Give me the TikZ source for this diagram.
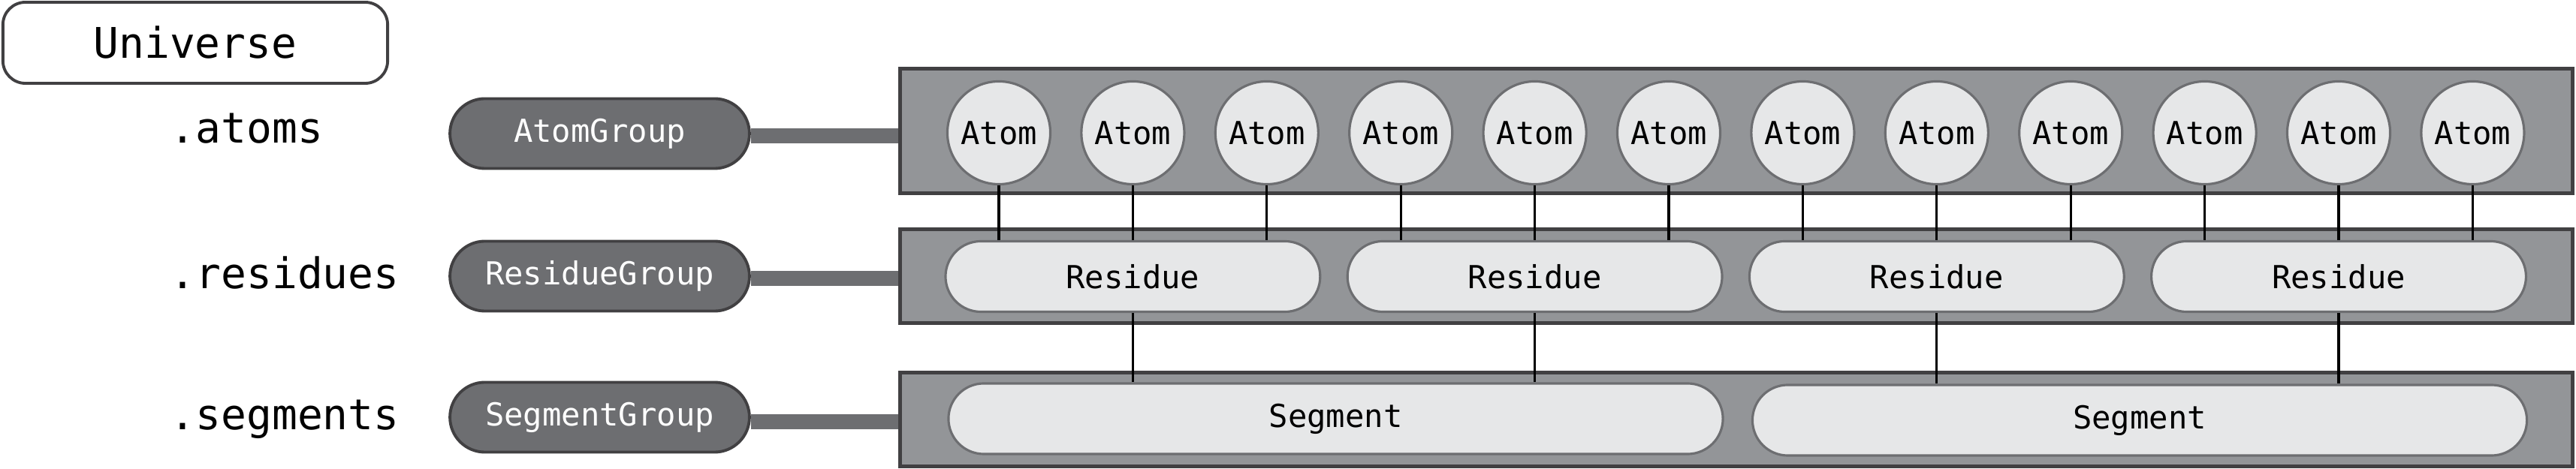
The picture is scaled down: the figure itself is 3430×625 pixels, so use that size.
\documentclass[tikz,border=0pt]{standalone}
\usepackage{fontspec}
\setmonofont{DejaVu Sans Mono}
\usetikzlibrary{shapes.misc}
\definecolor{panelfill}{HTML}{939598}
\definecolor{darkline}{HTML}{414042}
\definecolor{midgray}{HTML}{6D6E71}
\definecolor{lightfill}{HTML}{E6E7E8}
\tikzset{
  ubox/.style={draw=darkline, line width=1.1pt, fill=white, rounded corners=0.3cm, minimum width=5.12cm, minimum height=1.08cm, font=\ttfamily\fontsize{16}{18}\selectfont},
  lbl/.style={anchor=base west, inner sep=0pt, font=\ttfamily\fontsize{16}{18}\selectfont},
  grp/.style={rounded rectangle, draw=darkline, line width=1.1pt, fill=midgray, text=white, minimum width=4.22cm, minimum height=0.93cm, font=\ttfamily\fontsize{12}{14}\selectfont},
  panel/.style={rectangle, draw=darkline, line width=1.4pt, fill=panelfill, minimum width=22.26cm},
  atomnode/.style={circle, draw=midgray, line width=0.9pt, fill=lightfill, minimum size=1.37cm, inner sep=0pt, font=\ttfamily\fontsize{12}{14}\selectfont},
  resnode/.style={rounded rectangle, draw=midgray, line width=0.9pt, fill=lightfill, minimum width=5.22cm, minimum height=0.94cm, font=\ttfamily\fontsize{12}{14}\selectfont},
  segnode/.style={rounded rectangle, draw=midgray, line width=0.9pt, fill=lightfill, minimum width=10.54cm, minimum height=0.94cm, font=\ttfamily\fontsize{12}{14}\selectfont},
  bar/.style={draw=midgray, line width=5.6pt},
  link/.style={draw=black, line width=0.9pt}
}
\begin{document}
\begin{tikzpicture}[x=0.01cm, y=-0.01cm]
\useasboundingbox (0,0) rectangle (3430,625);
% panels
\node[panel, minimum height=1.66cm] (pa) at (2312,174.5) {};
\node[panel, minimum height=1.25cm] (pr) at (2312,368) {};
\node[panel, minimum height=1.25cm] (ps) at (2312,559) {};
% universe and labels
\node[ubox] (uni) at (260,57) {Universe};
\node[lbl] (la) at (226,191) {.atoms};
\node[lbl] (lr) at (226,385) {.residues};
\node[lbl] (ls) at (226,573) {.segments};
% groups
\node[grp] (ga) at (798.5,178) {AtomGroup};
\node[grp] (gr) at (798.5,368) {ResidueGroup};
\node[grp] (gs) at (798.5,556) {SegmentGroup};
\draw[bar] ([yshift=-0.03cm]ga.east) -- ([yshift=-0.03cm]ga.east -| pa.west);
\draw[bar] ([yshift=-0.03cm]gr.east) -- ([yshift=-0.03cm]gr.east -| pr.west);
\draw[bar] ([yshift=-0.06cm]gs.east) -- ([yshift=-0.06cm]gs.east -| ps.west);
% atoms
\foreach \i in {0,...,11} {
  \node[atomnode] (a\i) at ({1330+178.4*\i},177) {Atom};
}
% residues
\foreach \j/\m in {0/1,1/4,2/7,3/10} {
  \node[resnode] (r\j) at ({1330+178.4*\m},368.5) {Residue};
}
% segments
\node[segnode] (s0) at (1778.5,558) {Segment};
\node[segnode] (s1) at (2849,560) {Segment};
% atom-residue links
\foreach \i/\j in {0/0,1/0,2/0,3/1,4/1,5/1,6/2,7/2,8/2,9/3,10/3,11/3} {
  \draw[link] (a\i.south) -- (a\i.south |- r\j.north);
}
% residue-segment links
\foreach \j/\k in {0/0,1/0,2/1,3/1} {
  \draw[link] (r\j.south) -- (r\j.south |- s\k.north);
}
\end{tikzpicture}
\end{document}
